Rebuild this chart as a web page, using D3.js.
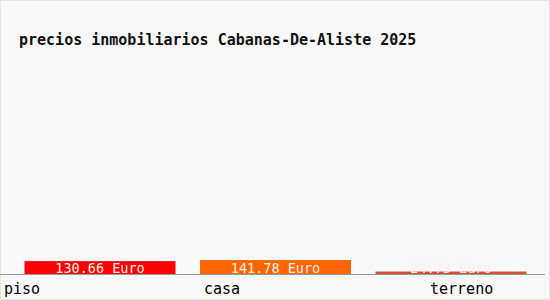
<!DOCTYPE html>
<html><head><meta charset="utf-8">
<script src="https://cdn.jsdelivr.net/npm/d3@7"></script>
<style>body{margin:0;background:#fff}</style>
</head><body>
<script>
const categories = ["piso", "casa", "terreno"];
const values = [130.66, 141.78, 24.73];
const labels = ["130.66 Euro", "141.78 Euro", "24.73 Euro"];
const colors = ["#ff0000", "#ff6600", "#d4502f"];
const title = "precios inmobiliarios Cabanas-De-Aliste 2025";

const W = 550, H = 300;
const svg = d3.select("body").append("svg").attr("width", W).attr("height", H);
svg.append("rect").attr("x", 0.5).attr("y", 0.5).attr("width", W - 1).attr("height", H - 1)
  .attr("fill", "#f9f9f9").attr("stroke", "#e4e4e4");

const font = "'DejaVu Sans Mono', monospace";
svg.append("text").attr("x", 19).attr("y", 45).text(title)
  .attr("font-family", font).attr("font-size", 15).attr("font-weight", "bold").attr("fill", "#111");

const xb = d3.scaleBand().domain(categories).range([24.5, 526.5]).paddingInner(0.1396).paddingOuter(0);
const y = d3.scaleLinear().domain([0, 1420]).range([274, 134]);

const g = svg.append("g");
g.selectAll("rect.bar").data(categories).join("rect").attr("class", "bar")
  .attr("x", d => xb(d)).attr("width", xb.bandwidth())
  .attr("y", (d, i) => y(values[i])).attr("height", (d, i) => y(0) - y(values[i]))
  .attr("fill", (d, i) => colors[i]);

g.selectAll("text.val").data(categories).join("text").attr("class", "val")
  .attr("x", d => xb(d) + xb.bandwidth() / 2).attr("y", y(0) - 1.5)
  .attr("text-anchor", "middle").text((d, i) => labels[i])
  .attr("font-family", font).attr("font-size", 13.5).attr("fill", "#fff0e8");

svg.append("line").attr("x1", 0).attr("x2", 545).attr("y1", 274.5).attr("y2", 274.5)
  .attr("stroke", "#999").attr("stroke-width", 1);

const labelX = d3.scaleOrdinal().domain(categories).range([4, 204, 430]);
svg.selectAll("text.cat").data(categories).join("text").attr("class", "cat")
  .attr("x", d => labelX(d)).attr("y", 294).text(d => d)
  .attr("font-family", font).attr("font-size", 15).attr("fill", "#000");
</script>
</body></html>
